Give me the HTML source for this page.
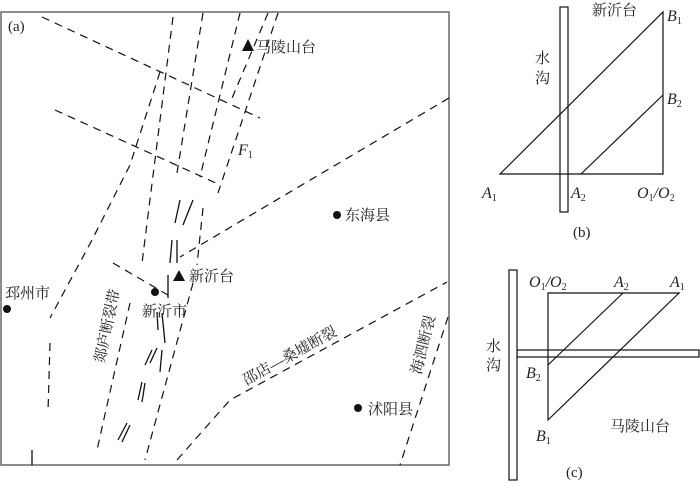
<!DOCTYPE html>
<html><head><meta charset="utf-8"><style>
html,body{margin:0;padding:0;background:#fff;}
svg{display:block;}
text{font-family:"Liberation Serif","Noto Serif CJK SC",serif;fill:#222;}
.cn{font-family:"Liberation Serif","Noto Serif CJK SC","Noto Sans CJK SC",serif;font-size:15px;}
.it{font-style:italic;font-size:16px;}
.sub{font-size:10px;font-style:normal;}
</style></head><body>
<svg width="700" height="490" viewBox="0 0 700 490" xmlns="http://www.w3.org/2000/svg">
<rect x="1" y="12" width="448" height="453" fill="none" stroke="#666" stroke-width="1.5"/>
<text x="8" y="31" class="cn">(a)</text>
<g stroke="#111" stroke-width="1.2" fill="none" stroke-dasharray="8,6">
<path d="M42,17 L260,118"/>
<path d="M160,72 L130,165 L92,240 L50,318"/>
<path d="M50,343 L48,412"/>
<path d="M55,110 L218,184"/>
<path d="M173,17 L142,263"/>
<path d="M203,13 L177,173"/>
<path d="M240,13 L200,177"/>
<path d="M268,13 L230,103"/>
<path d="M278,13 L218,193"/>
<path d="M203,208 L197,265"/>
<path d="M193,283 L145,460"/>
<path d="M449,98 L180,257"/>
<path d="M113,263 L173,298"/>
<path d="M130,303 L97,450"/>
<path d="M177,460 L230,400 L447,282"/>
<path d="M448,317 L400,465"/>
</g>
<g stroke="#111" stroke-width="1.3">
<line x1="180" y1="200" x2="175" y2="223"/><line x1="193" y1="200" x2="183" y2="225"/>
<line x1="172" y1="240" x2="170" y2="263"/><line x1="177" y1="240" x2="177" y2="263"/>
<line x1="168" y1="275" x2="168" y2="298"/>
<line x1="157" y1="312" x2="158" y2="330"/><line x1="162" y1="313" x2="165" y2="343"/>
<line x1="152" y1="350" x2="145" y2="365"/><line x1="157" y1="348" x2="150" y2="363"/><line x1="162" y1="350" x2="160" y2="372"/>
<line x1="142" y1="382" x2="138" y2="400"/><line x1="145" y1="383" x2="142" y2="402"/>
<line x1="127" y1="423" x2="118" y2="440"/><line x1="130" y1="425" x2="122" y2="442"/>
<line x1="32" y1="450" x2="32" y2="465"/>
</g>
<polygon points="248,39 242,51 254,51" fill="#111"/>
<text x="256" y="52" class="cn">马陵山台</text>
<text x="238" y="155" class="it">F<tspan class="sub" dy="3">1</tspan></text>
<circle cx="337" cy="215" r="4" fill="#111"/><text x="345" y="220" class="cn">东海县</text>
<polygon points="179,270 173,281 185,281" fill="#111"/><text x="189" y="281" class="cn">新沂台</text>
<circle cx="155" cy="292" r="4" fill="#111"/><text x="142" y="316" class="cn">新沂市</text>
<circle cx="7" cy="309" r="4" fill="#111"/><text x="5" y="298" class="cn">邳州市</text>
<circle cx="358" cy="408" r="4" fill="#111"/><text x="368" y="414" class="cn">沭阳县</text>
<text class="cn" transform="translate(112,327) rotate(-78)" text-anchor="middle">郯庐断裂带</text>
<text class="cn" transform="translate(292,360) rotate(-29)" text-anchor="middle">邵店—桑墟断裂</text>
<text class="cn" transform="translate(428,346) rotate(-76)" text-anchor="middle">海泗断裂</text>

<!-- (b) -->
<g stroke="#111" stroke-width="1.2" fill="none">
<path d="M500,174 L663,174 L663,12 Z"/>
<line x1="581" y1="174" x2="663" y2="95"/>
<rect x="560" y="7" width="8" height="205"/>
</g>
<text x="592" y="15" class="cn">新沂台</text>
<text x="535" y="63" class="cn">水</text><text x="535" y="83" class="cn">沟</text>
<text x="482" y="198" class="it">A<tspan class="sub" dy="3">1</tspan></text>
<text x="571" y="198" class="it">A<tspan class="sub" dy="3">2</tspan></text>
<text x="637" y="198" class="it">O<tspan class="sub" dy="3">1</tspan><tspan dy="-3">/O</tspan><tspan class="sub" dy="3">2</tspan></text>
<text x="667" y="21" class="it">B<tspan class="sub" dy="3">1</tspan></text>
<text x="667" y="104" class="it">B<tspan class="sub" dy="3">2</tspan></text>
<text x="573" y="237" class="cn">(b)</text>

<!-- (c) -->
<g stroke="#111" stroke-width="1.2" fill="none">
<path d="M548,293 L679,293 L548,420 Z"/>
<line x1="623" y1="293" x2="548" y2="365"/>
<rect x="517" y="350" width="182" height="7"/>
<rect x="509" y="270" width="8" height="210" fill="#fff"/>
</g>
<text x="529" y="287" class="it">O<tspan class="sub" dy="3">1</tspan><tspan dy="-3">/O</tspan><tspan class="sub" dy="3">2</tspan></text>
<text x="614" y="287" class="it">A<tspan class="sub" dy="3">2</tspan></text>
<text x="670" y="287" class="it">A<tspan class="sub" dy="3">1</tspan></text>
<text x="526" y="378" class="it">B<tspan class="sub" dy="3">2</tspan></text>
<text x="536" y="441" class="it">B<tspan class="sub" dy="3">1</tspan></text>
<text x="610" y="431" class="cn">马陵山台</text>
<text x="486" y="351" class="cn">水</text><text x="486" y="370" class="cn">沟</text>
<text x="566" y="477" class="cn">(c)</text>
</svg>
</body></html>
